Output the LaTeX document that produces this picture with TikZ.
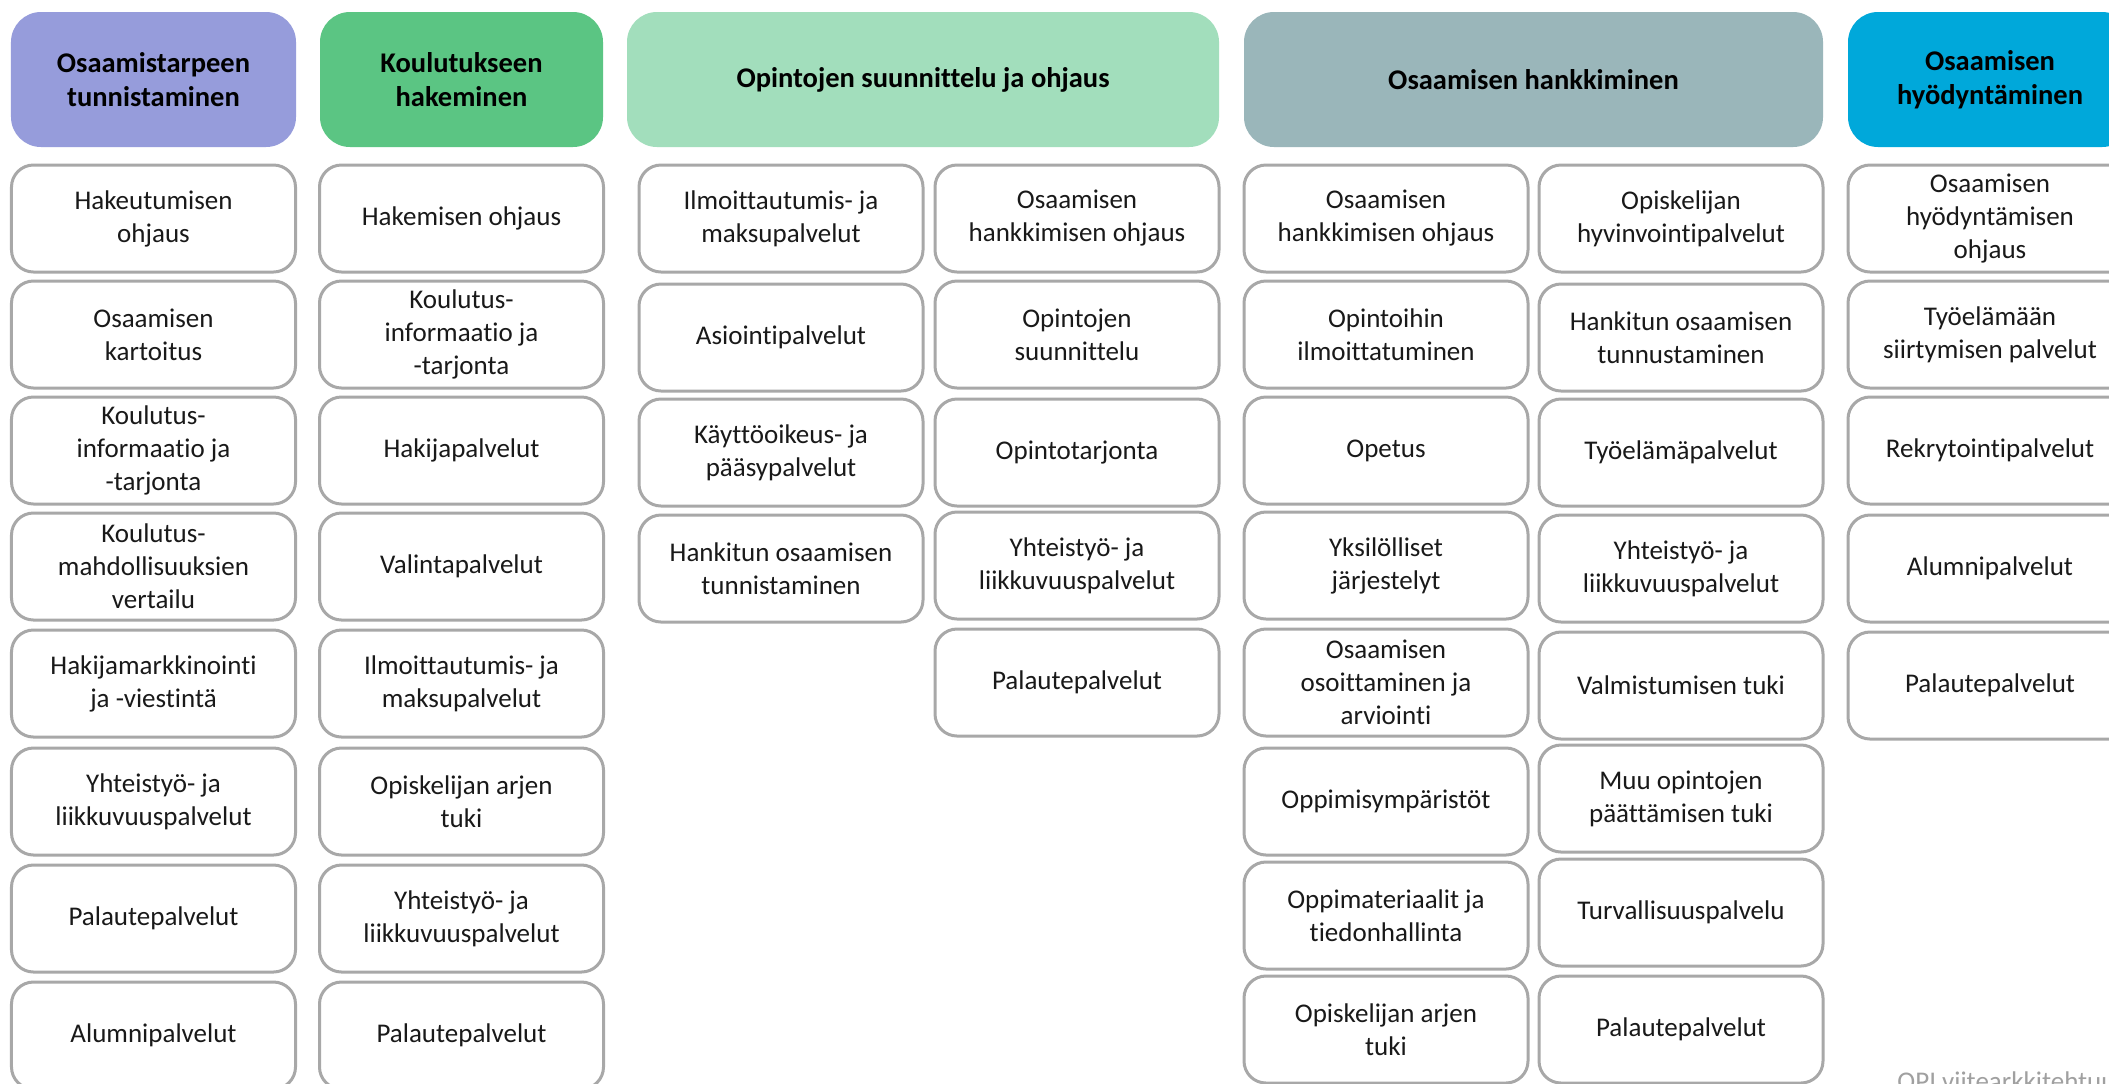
\documentclass[tikz,border=0pt]{standalone}
\usepackage{fontspec}
\setmainfont{Carlito}[Ligatures=NoCommon]
\definecolor{hpurple}{RGB}{150,156,219}
\definecolor{hgreen}{RGB}{91,197,131}
\definecolor{hmint}{RGB}{162,222,188}
\definecolor{hslate}{RGB}{154,182,186}
\definecolor{hblue}{RGB}{0,168,218}
\definecolor{bordergray}{RGB}{168,168,168}
\definecolor{foot}{RGB}{160,160,160}
\definecolor{boxtext}{RGB}{25,25,25}
\tikzset{
  svc/.style={draw=bordergray, line width=1.5bp, fill=white, rounded corners=11bp,
    minimum width=142bp, minimum height=53.5bp, inner sep=0pt, align=center,
    font=\fontsize{13.5bp}{16.5bp}\selectfont, text=boxtext},
  hdr/.style={rounded corners=15bp, minimum height=67.5bp, inner sep=0pt, align=center,
    font=\fontsize{14.25bp}{17.25bp}\selectfont\bfseries, text=black},
}
\newcommand\svcnode[4]{\node[svc] (#1) at (#2,#3) {#4};}
\begin{document}
\begin{tikzpicture}[x=0.5bp,y=-0.5bp]
\useasboundingbox (0,0) rectangle (2109,1083);
\clip (0,0) rectangle (2109,1083);
\fill[white] (0,0) rectangle (2109,1083);
% headers
\node[hdr, fill=hpurple, minimum width=142.5bp] (h1) at (153.5,79.5) {Osaamistarpeen\\tunnistaminen};
\node[hdr, fill=hgreen, minimum width=141.5bp] (h2) at (461.5,79.5) {Koulutukseen\\hakeminen};
\node[hdr, fill=hmint, minimum width=296bp] (h3) at (923,79.5) {Opintojen suunnittelu ja ohjaus};
\node[hdr, fill=hslate, minimum width=289.5bp] (h4) at (1533.5,79.5) {Osaamisen hankkiminen};
\node[hdr, fill=hblue, minimum width=142bp] (h5) at (1990,79.5) {Osaamisen\\hyödyntäminen};
% column 1
\svcnode{a1}{153.5}{218.5}{Hakeutumisen\\ohjaus}
\svcnode{a2}{153.5}{334.5}{Osaamisen\\kartoitus}
\svcnode{a3}{153.5}{450.5}{Koulutus-\\informaatio ja\\-tarjonta}
\svcnode{a4}{153.5}{566.5}{Koulutus-\\mahdollisuuksien\\vertailu}
\svcnode{a5}{153.5}{683.5}{Hakijamarkkinointi\\ja -viestintä}
\svcnode{a6}{153.5}{801.5}{Yhteistyö- ja\\liikkuvuuspalvelut}
\svcnode{a7}{153.5}{918.5}{Palautepalvelut}
\svcnode{a8}{153.5}{1035.5}{Alumnipalvelut}
% column 2
\svcnode{b1}{461.5}{218.5}{Hakemisen ohjaus}
\svcnode{b2}{461.5}{334.5}{Koulutus-\\informaatio ja\\-tarjonta}
\svcnode{b3}{461.5}{450.5}{Hakijapalvelut}
\svcnode{b4}{461.5}{566.5}{Valintapalvelut}
\svcnode{b5}{461.5}{683.5}{Ilmoittautumis- ja\\maksupalvelut}
\svcnode{b6}{461.5}{801.5}{Opiskelijan arjen\\tuki}
\svcnode{b7}{461.5}{918.5}{Yhteistyö- ja\\liikkuvuuspalvelut}
\svcnode{b8}{461.5}{1035.5}{Palautepalvelut}
% column 3a
\svcnode{c1}{781}{218.5}{Ilmoittautumis- ja\\maksupalvelut}
\svcnode{c2}{781}{337.5}{Asiointipalvelut}
\svcnode{c3}{781}{452.5}{Käyttöoikeus- ja\\pääsypalvelut}
\svcnode{c4}{781}{568.5}{Hankitun osaamisen\\tunnistaminen}
% column 3b
\svcnode{d1}{1077}{218.5}{Osaamisen\\hankkimisen ohjaus}
\svcnode{d2}{1077}{334.5}{Opintojen\\suunnittelu}
\svcnode{d3}{1077}{452.5}{Opintotarjonta}
\svcnode{d4}{1077}{565.5}{Yhteistyö- ja\\liikkuvuuspalvelut}
\svcnode{d5}{1077}{682.5}{Palautepalvelut}
% column 4a
\svcnode{e1}{1386}{218.5}{Osaamisen\\hankkimisen ohjaus}
\svcnode{e2}{1386}{334.5}{Opintoihin\\ilmoittatuminen}
\svcnode{e3}{1386}{450.5}{Opetus}
\svcnode{e4}{1386}{565.5}{Yksilölliset\\järjestelyt}
\svcnode{e5}{1386}{682.5}{Osaamisen\\osoittaminen ja\\arviointi}
\svcnode{e6}{1386}{801.5}{Oppimisympäristöt}
\svcnode{e7}{1386}{915.5}{Oppimateriaalit ja\\tiedonhallinta}
\svcnode{e8}{1386}{1029.5}{Opiskelijan arjen\\tuki}
% column 4b
\svcnode{f1}{1681}{218.5}{Opiskelijan\\hyvinvointipalvelut}
\svcnode{f2}{1681}{337.5}{Hankitun osaamisen\\tunnustaminen}
\svcnode{f3}{1681}{452.5}{Työelämäpalvelut}
\svcnode{f4}{1681}{568.5}{Yhteistyö- ja\\liikkuvuuspalvelut}
\svcnode{f5}{1681}{685.5}{Valmistumisen tuki}
\svcnode{f6}{1681}{798.5}{Muu opintojen\\päättämisen tuki}
\svcnode{f7}{1681}{912.5}{Turvallisuuspalvelu}
\svcnode{f8}{1681}{1029.5}{Palautepalvelut}
% column 5
\svcnode{g1}{1990}{218.5}{Osaamisen\\hyödyntämisen\\ohjaus}
\svcnode{g2}{1990}{334.5}{Työelämään\\siirtymisen palvelut}
\svcnode{g3}{1990}{450.5}{Rekrytointipalvelut}
\svcnode{g4}{1990}{568.5}{Alumnipalvelut}
\svcnode{g5}{1990}{685.5}{Palautepalvelut}
% footer (cut off at the edges, as in the reference)
\node[anchor=base west, inner sep=0pt, text=foot, font=\fontsize{13.5bp}{16.5bp}\selectfont] (foot) at (1897,1090) {OPI viitearkkitehtuuri};
\end{tikzpicture}
\end{document}
